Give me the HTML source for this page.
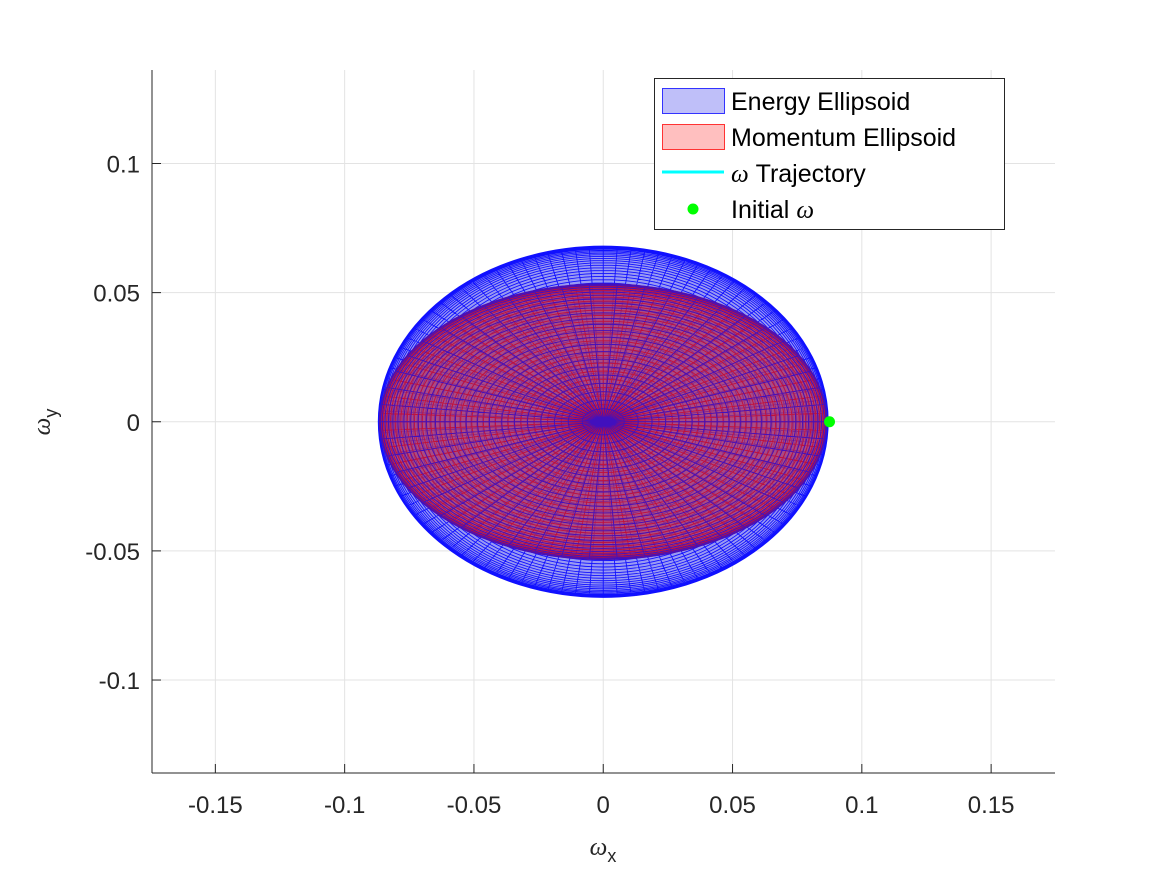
<!DOCTYPE html>
<html><head><meta charset="utf-8"><style>
body{margin:0;background:#fff;}
svg text{font-family:"Liberation Sans",sans-serif;}
</style></head><body>
<svg id="chart" width="1167" height="875">
<g id="grid"></g>
<g id="marks"></g>
<g id="axes"></g>
<text x="603" y="855" font-size="25" text-anchor="middle" fill="#262626"><tspan font-family="Liberation Serif" font-style="italic">ω</tspan><tspan font-size="18" dy="7">x</tspan></text>
<text transform="translate(50,422) rotate(-90)" font-size="25" text-anchor="middle" fill="#262626"><tspan font-family="Liberation Serif" font-style="italic">ω</tspan><tspan font-size="18" dy="7">y</tspan></text>
<g>
<rect x="654.5" y="78.5" width="350" height="151" fill="#fff" stroke="#262626"/>
<rect x="662.5" y="88.5" width="62" height="25" fill="#bfbff9" stroke="#3333ff"/>
<text x="731" y="110" font-size="25" fill="#000">Energy Ellipsoid</text>
<rect x="662.5" y="124.5" width="62" height="25" fill="#ffbfbf" stroke="#ff3333"/>
<text x="731" y="146" font-size="25" fill="#000">Momentum Ellipsoid</text>
<line x1="662" y1="172" x2="724" y2="172" stroke="#00ffff" stroke-width="3"/>
<text x="731" y="182" font-size="25" fill="#000"><tspan font-family="Liberation Serif" font-style="italic">ω</tspan> Trajectory</text>
<circle cx="693" cy="209" r="5.5" fill="#00ff00"/>
<text x="731" y="218" font-size="25" fill="#000">Initial <tspan font-family="Liberation Serif" font-style="italic">ω</tspan></text>
</g>
</svg>
<script>
const xTicks=[-0.15,-0.1,-0.05,0,0.05,0.1,0.15];
const yTicks=[-0.1,-0.05,0,0.05,0.1];
const xTickLabels=["-0.15","-0.1","-0.05","0","0.05","0.1","0.15"];
const yTickLabels=["-0.1","-0.05","0","0.05","0.1"];
const energyRadii=[0.087,0.068];
const momentumRadii=[0.0865,0.0534];
const initialOmega=[0.0875,0];
const meshN=100;
const NS="http://www.w3.org/2000/svg";
const L=152,R=1055,T=70,B=773;
const xMin=-0.1745,xMax=0.1747,yMin=-0.136,yMax=0.1362;
function sx(v){return L+(v-xMin)/(xMax-xMin)*(R-L);}
function sy(v){return B-(v-yMin)/(yMax-yMin)*(B-T);}
function mk(tag,attrs,parent){const e=document.createElementNS(NS,tag);for(const k in attrs)e.setAttribute(k,attrs[k]);parent.appendChild(e);return e;}
const grid=document.getElementById('grid'),axes=document.getElementById('axes'),marks=document.getElementById('marks');
xTicks.forEach((t,i)=>{const x=sx(t);
 const g=mk('line',{x1:x,x2:x,y1:T,y2:B,stroke:'#e3e3e3','stroke-width':1},grid);
 
 
 mk('line',{x1:x,x2:x,y1:B,y2:B-9,stroke:'#262626'},axes);
 const tx=mk('text',{x:x,y:B+40,'font-size':24,'text-anchor':'middle',fill:'#262626'},axes);tx.textContent=xTickLabels[i];
 
 
});
yTicks.forEach((t,i)=>{const y=sy(t);
 const g=mk('line',{x1:L,x2:R,y1:y,y2:y,stroke:'#e3e3e3','stroke-width':1},grid);
 
 
 mk('line',{x1:L,x2:L+9,y1:y,y2:y,stroke:'#262626'},axes);
 const tx=mk('text',{x:L-12,y:y+9,'font-size':24,'text-anchor':'end',fill:'#262626'},axes);tx.textContent=yTickLabels[i];
 
 
});
mk('line',{x1:L,x2:L,y1:T,y2:B,stroke:'#262626'},axes);
mk('line',{x1:L,x2:R,y1:B,y2:B,stroke:'#262626'},axes);
function ellipsoid(rad,fill,stroke,fop,sw,name){
 const g=mk('g',{},marks);
 
 
 const cx=sx(0),cy=sy(0),rx=sx(rad[0])-cx,ry=cy-sy(rad[1]);
 mk('ellipse',{cx:cx,cy:cy,rx:rx,ry:ry,fill:fill,'fill-opacity':fop},g);
 let d='';
 for(let k=1;k<=meshN/2;k++){const s=Math.sin(k*Math.PI/meshN);
  const a=rx*s,b=ry*s;d+=`M${cx-a},${cy}a${a},${b} 0 1,0 ${2*a},0a${a},${b} 0 1,0 ${-2*a},0`;}
 for(let j=0;j<meshN;j++){const th=2*Math.PI*j/meshN;d+=`M${cx},${cy}L${cx+rx*Math.cos(th)},${cy-ry*Math.sin(th)}`;}
 mk('path',{d:d,fill:'none',stroke:stroke,'stroke-width':sw},g);
}
ellipsoid(energyRadii,'#8080f0','#1010ff',0.8,0.9,'energy-ellipsoid');
ellipsoid(momentumRadii,'#b03060','#c0103a',0.75,0.9,'momentum-ellipsoid');
(function(){const cx=sx(0),cy=sy(0),rx=sx(momentumRadii[0])-cx,ry=cy-sy(momentumRadii[1]);
 let d='';for(let k=1;k<=meshN/2;k+=2){const s=Math.sin(k*Math.PI/meshN);const a=rx*s,b=ry*s;d+=`M${cx-a},${cy}a${a},${b} 0 1,0 ${2*a},0a${a},${b} 0 1,0 ${-2*a},0`;}
 for(let j=0;j<meshN;j+=2){const th=2*Math.PI*j/meshN;d+=`M${cx},${cy}L${cx+rx*Math.cos(th)},${cy-ry*Math.sin(th)}`;}
 const p=mk('path',{d:d,fill:'none',stroke:'#2010e0','stroke-width':0.9,'stroke-opacity':0.8},marks);
 
 
})();
const dot=mk('circle',{cx:sx(initialOmega[0]),cy:sy(initialOmega[1]),r:5.5,fill:'#00ff00'},marks);


</script>
</body></html>
